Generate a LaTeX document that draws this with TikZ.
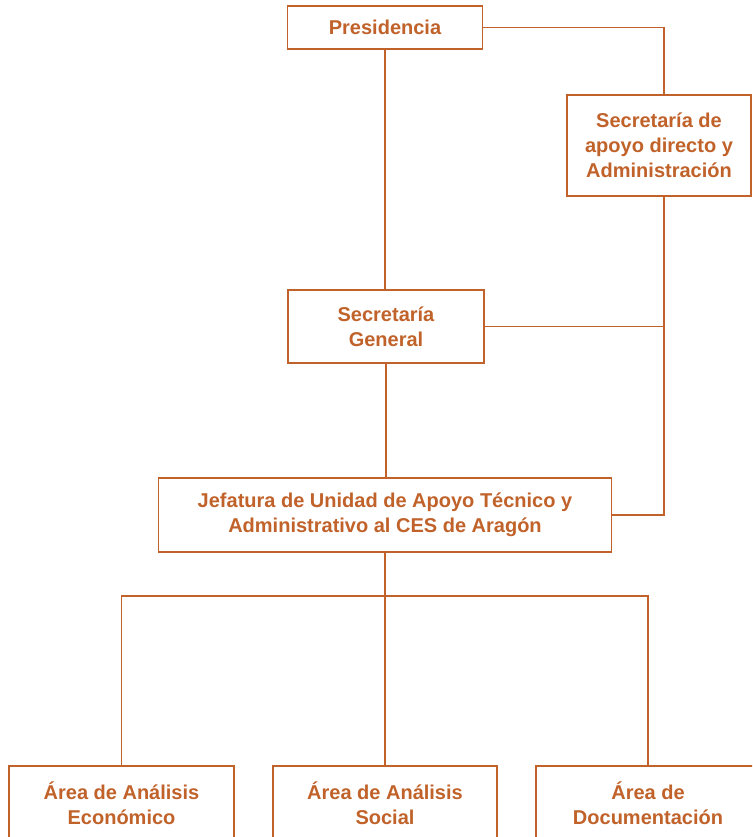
\documentclass[tikz,border=0pt]{standalone}
\usepackage{fontspec}
\setmainfont{Liberation Sans}
\usepackage{tikz}
\definecolor{cesorange}{HTML}{C0622A}
\tikzstyle{orgbox} = [draw=cesorange, fill=white, line width=1.5pt,
    rectangle, align=center, inner sep=0pt, text=cesorange,
    font=\fontsize{20}{25}\selectfont\bfseries]
\tikzstyle{orgline} = [draw=cesorange, line width=1.5pt]

\begin{document}
\begin{tikzpicture}[x=1pt, y=-1pt]
    \clip (0,0) rectangle (752,837);
    \fill[white] (0,0) rectangle (752,837);
    % upper part
    \node[orgbox, minimum width=195pt, minimum height=43pt] (pres) at (385,27.5) {Presidencia};
    \node[orgbox, minimum width=184pt, minimum height=101pt] (sad) at (659,145.5)
        {Secretaría de\\apoyo directo y\\Administración};
    \node[orgbox, minimum width=196pt, minimum height=73pt] (sg) at (386,326.5)
        {Secretaría\\General};
    \node[orgbox, minimum width=453pt, minimum height=74pt] (jef) at (385,515)
        {Jefatura de Unidad de Apoyo Técnico y\\Administrativo al CES de Aragón};
    % areas
    \node[orgbox, minimum width=225pt, minimum height=74pt] (econ) at (121.5,803)
        {Área de Análisis\\Económico};
    \node[orgbox, minimum width=224pt, minimum height=74pt] (soc) at (385,803)
        {Área de Análisis\\Social};
    \node[orgbox, minimum width=224pt, minimum height=74pt] (doc) at (648,803)
        {Área de\\Documentación};
    \coordinate (rail) at (664,0);
    \coordinate (split) at (385,596);
    % connectors
    \path[orgline] (pres.south) -- (pres.south |- sg.north);
    \path[orgline] (pres.east) -| (rail |- sad.north);
    \path[orgline] (rail |- sad.south) -- (rail |- jef.east) -- (jef.east);
    \path[orgline] (sg.east) -- (rail |- sg.east);
    \path[orgline] (sg.south) -- (sg.south |- jef.north);
    \path[orgline] (jef.south) -- (split);
    \path[orgline] (econ.north) |- (split) -| (doc.north);
    \path[orgline] (split) -- (soc.north);
\end{tikzpicture}
\end{document}
